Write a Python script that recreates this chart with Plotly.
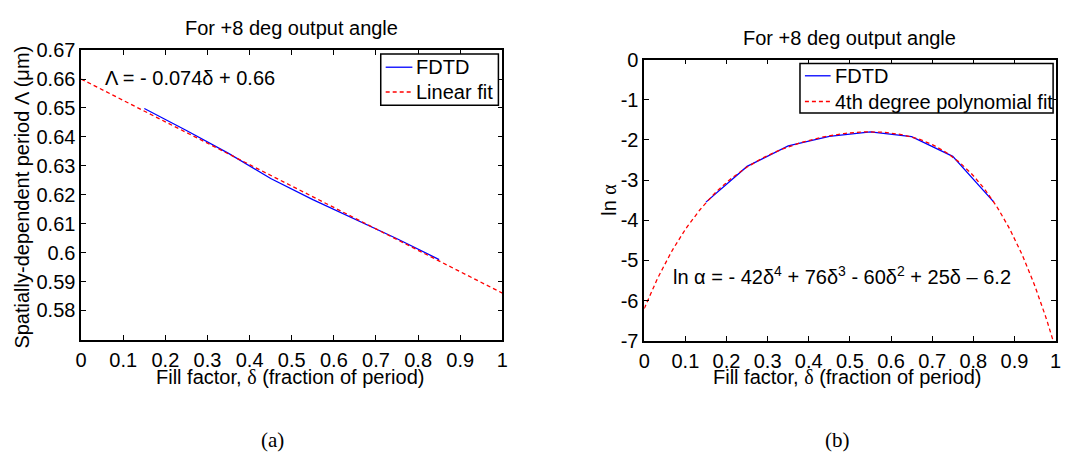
import numpy as np
import plotly.graph_objects as go

W, H = 1068, 466

# Fill factor sample points of the FDTD simulations
fill_fdtd = [0.15, 0.25, 0.35, 0.45, 0.55, 0.65, 0.75, 0.85]
# (a) spatially-dependent period (um)
period_fdtd = [0.6498, 0.6422, 0.6343, 0.6256, 0.6183, 0.6115, 0.6048, 0.5976]
# (b) ln(alpha)
lnalpha_fdtd = [-3.55, -2.66, -2.15, -1.91, -1.80, -1.92, -2.41, -3.55]

# Fit coefficients (highest power first)
period_fit_coef = [-0.074, 0.66]
lnalpha_fit_coef = [-42, 76, -60, 25, -6.2]

x_ticks = [0, 0.1, 0.2, 0.3, 0.4, 0.5, 0.6, 0.7, 0.8, 0.9, 1]
x_ticktext = ["0", "0.1", "0.2", "0.3", "0.4", "0.5", "0.6", "0.7", "0.8", "0.9", "1"]
ya_ticks = [0.58, 0.59, 0.6, 0.61, 0.62, 0.63, 0.64, 0.65, 0.66, 0.67]
ya_ticktext = ["0.58", "0.59", "0.6", "0.61", "0.62", "0.63", "0.64", "0.65", "0.66", "0.67"]
yb_ticks = [-7, -6, -5, -4, -3, -2, -1, 0]
yb_ticktext = ["-7", "-6", "-5", "-4", "-3", "-2", "-1", "0"]

FONT = "Liberation Sans, Arial, sans-serif"
SERIF = "Liberation Serif, Times New Roman, serif"
BLUE = "#0000ff"
RED = "#ff0000"
DASH = "4px,3px"
LW = 1.3


def px(x):
    return x / W


def py(y):
    return 1 - y / H


fit_x_a = [0, 1]
fit_y_a = list(np.polyval(period_fit_coef, fit_x_a))
fit_x_b = np.linspace(0, 1, 201)
fit_y_b = np.polyval(lnalpha_fit_coef, fit_x_b)

fig = go.Figure()

fig.add_trace(go.Scatter(x=fill_fdtd, y=period_fdtd, mode="lines", name="FDTD",
                         line=dict(color=BLUE, width=LW), xaxis="x", yaxis="y"))
fig.add_trace(go.Scatter(x=fit_x_a, y=fit_y_a, mode="lines", name="Linear fit",
                         line=dict(color=RED, width=LW, dash=DASH), xaxis="x", yaxis="y"))
fig.add_trace(go.Scatter(x=fill_fdtd, y=lnalpha_fdtd, mode="lines", name="FDTD",
                         line=dict(color=BLUE, width=LW), xaxis="x2", yaxis="y2"))
fig.add_trace(go.Scatter(x=fit_x_b, y=fit_y_b, mode="lines", name="4th degree polynomial fit",
                         line=dict(color=RED, width=LW, dash=DASH), xaxis="x2", yaxis="y2"))

axis_common = dict(showline=True, linecolor="black", linewidth=1.5, mirror="ticks",
                   ticks="inside", ticklen=5, tickcolor="black", tickwidth=1,
                   showgrid=False, zeroline=False,
                   tickfont=dict(family=FONT, size=20, color="black"))

fig.update_layout(
    width=W, height=H,
    margin=dict(l=0, r=0, t=0, b=0),
    paper_bgcolor="white", plot_bgcolor="white",
    font=dict(family=FONT, size=20, color="black"),
    showlegend=False,
    xaxis=dict(domain=[px(76), px(502)], range=[0, 1], tickvals=x_ticks,
               ticktext=x_ticktext, anchor="y", ticklabelstandoff=2, **axis_common),
    yaxis=dict(domain=[py(345), py(41)], range=[0.5699, 0.67], tickvals=ya_ticks,
               ticktext=ya_ticktext, anchor="x", **axis_common),
    xaxis2=dict(domain=[px(645.5), px(1061.5)], range=[0, 1], tickvals=x_ticks,
                ticktext=x_ticktext, anchor="y2", ticklabelstandoff=2, **axis_common),
    yaxis2=dict(domain=[py(346), py(51)], range=[-7, 0], tickvals=yb_ticks,
                ticktext=yb_ticktext, anchor="x2", **axis_common),
)


def label(text, x, y, size=20, angle=0, xanchor="center", family=FONT):
    fig.add_annotation(text=text, x=px(x), y=py(y), xref="paper", yref="paper",
                       xanchor=xanchor, yanchor="middle", showarrow=False,
                       textangle=angle, font=dict(family=family, size=size, color="black"))


def legend_box(x0, y0, x1, y1, entries):
    fig.add_shape(type="rect", xref="paper", yref="paper",
                  x0=px(x0), x1=px(x1), y0=py(y1), y1=py(y0),
                  line=dict(color="black", width=1.5), fillcolor="white", layer="above")
    for (lx0, lx1, ly, color, dash, text) in entries:
        fig.add_shape(type="line", xref="paper", yref="paper",
                      x0=px(lx0), x1=px(lx1), y0=py(ly), y1=py(ly),
                      line=dict(color=color, width=LW, dash=dash), layer="above")
        label(text, lx1 + 2, ly, xanchor="left")


legend_box(379, 45, 498, 99, [
    (384, 411, 59, BLUE, "solid", "FDTD"),
    (384, 411, 85, RED, DASH, "Linear fit"),
])
legend_box(803, 55, 1059, 107, [
    (808, 834, 68, BLUE, "solid", "FDTD"),
    (808, 834, 95, RED, DASH, "4th degree polynomial fit"),
])

delta = '<span style="font-family:Liberation Serif">δ</span>'
alpha = '<span style="font-family:Liberation Serif">α</span>'

label("For +8 deg output angle", 289, 18, size=20)
label("For +8 deg output angle", 853.5, 28, size=20)
label("Fill factor, " + delta + " (fraction of period)", 287.5, 384)
label("Fill factor, " + delta + " (fraction of period)", 851, 384)
label("Spatially-dependent period Λ (μm)", 16, 195, angle=-90)
label("ln " + alpha, 610, 198, angle=-90)
label("Λ = - 0.074δ + 0.66", 98, 70, xanchor="left")
label("ln α = - 42δ<sup>4</sup> + 76δ<sup>3</sup> - 60δ<sup>2</sup> + 25δ – 6.2", 673, 278,
      xanchor="left")
label("(a)", 270, 450, size=21, family=SERIF)
label("(b)", 841, 450, size=21, family=SERIF)

fig.write_html("out.html")
